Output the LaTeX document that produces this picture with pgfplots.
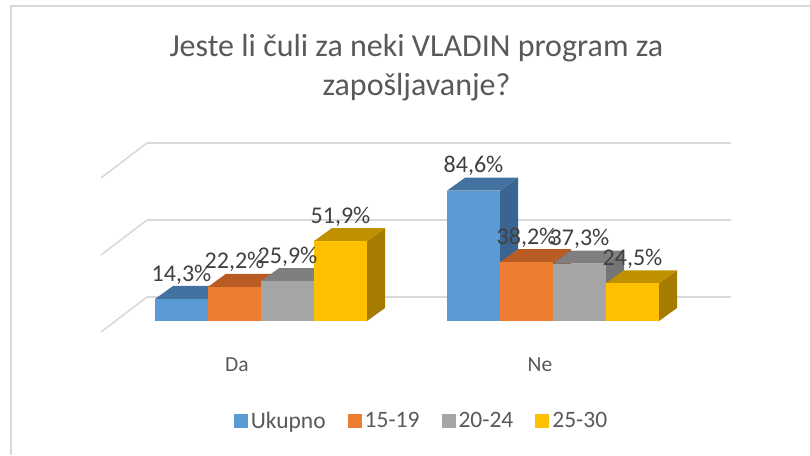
\documentclass[border=0pt]{standalone}
\usepackage{fontspec}
\setmainfont{Carlito}
\usepackage{pgfplots}
\pgfplotsset{compat=1.18}
\definecolor{cblueF}{HTML}{5B9BD5}\definecolor{cblueT}{HTML}{4472A0}\definecolor{cblueS}{HTML}{3A6593}
\definecolor{corF}{HTML}{ED7D31}\definecolor{corT}{HTML}{B85C23}\definecolor{corS}{HTML}{A05020}
\definecolor{cgrF}{HTML}{A5A5A5}\definecolor{cgrT}{HTML}{7F7F7F}\definecolor{cgrS}{HTML}{757575}
\definecolor{cyeF}{HTML}{FFC000}\definecolor{cyeT}{HTML}{C09000}\definecolor{cyeS}{HTML}{A67C00}
\definecolor{gridc}{HTML}{D9D9D9}
\definecolor{txtA}{HTML}{595959}
\definecolor{txtB}{HTML}{404040}
% 3D-looking bar: #1 left x of front face, #2 value (%), #3 front, #4 top, #5 side colour
\newcommand{\cubebar}[5]{%
  \pgfmathsetmacro\xa{#1}%
  \pgfmathsetmacro\xb{#1+53}%
  \pgfmathsetmacro\xc{#1+53+18}%
  \pgfmathsetmacro\xd{#1+18}%
  \pgfmathsetmacro\vt{#2+8.44}%
  \addplot[fill=#5,draw=none,forget plot] coordinates {(\xb,0) (\xc,8.44) (\xc,\vt) (\xb,#2)};
  \addplot[fill=#4,draw=none,forget plot] coordinates {(\xa,#2) (\xb,#2) (\xc,\vt) (\xd,\vt)};
  \addplot[fill=#3,draw=none,forget plot] coordinates {(\xa,0) (\xb,0) (\xb,#2) (\xa,#2)};
}
\begin{document}
\begin{tikzpicture}
\begin{axis}[
  width=810pt, height=455pt, scale only axis,
  xmin=0, xmax=810, ymin=-87.013, ymax=208.442,
  hide axis, clip=false,
  legend columns=4,
  legend style={at={(0.521,0.0754)}, anchor=center, draw=none, fill=none,
    font=\fontsize{23.5}{27}\selectfont, text=txtA,
    nodes={inner sep=3pt},
    /tikz/every even column/.append style={column sep=19pt}},
  legend image code/.code={\fill[#1] (0pt,-7pt) rectangle (14pt,7pt);},
]
\addlegendimage{fill=cblueF,draw=none}\addlegendentry{Ukupno}
\addlegendimage{fill=corF,draw=none}\addlegendentry{15-19}
\addlegendimage{fill=cgrF,draw=none}\addlegendentry{20-24}
\addlegendimage{fill=cyeF,draw=none}\addlegendentry{25-30}
% back wall and side wall gridlines (0, 50, 100 %)
\addplot[gridc, line width=1.6pt, forget plot] coordinates {(101,-7.14) (147,15.58) (731,15.58)};
\addplot[gridc, line width=1.6pt, forget plot] coordinates {(101,42.86) (147,65.58) (731,65.58)};
\addplot[gridc, line width=1.6pt, forget plot] coordinates {(101,92.86) (147,115.58) (731,115.58)};
% Da
\cubebar{155}{14.3}{cblueF}{cblueT}{cblueS}
\cubebar{208}{22.2}{corF}{corT}{corS}
\cubebar{261}{25.9}{cgrF}{cgrT}{cgrS}
\cubebar{314}{51.9}{cyeF}{cyeT}{cyeS}
% Ne
\cubebar{447}{84.6}{cblueF}{cblueT}{cblueS}
\cubebar{500}{38.2}{corF}{corT}{corS}
\cubebar{553}{37.3}{cgrF}{cgrT}{cgrS}
\cubebar{606}{24.5}{cyeF}{cyeT}{cyeS}
% data labels
\addplot[draw=none, forget plot, nodes near coords, point meta=explicit symbolic,
  every node near coord/.append style={anchor=center, yshift=24.5pt,
    font=\fontsize{24}{28}\selectfont, text=txtB}]
  coordinates {(181.5,14.3)[14,3\%] (234.5,22.2)[22,2\%] (287.5,25.9)[25,9\%] (340.5,51.9)[51,9\%]
               (473.5,84.6)[84,6\%] (526.5,38.2)[38,2\%] (579.5,37.3)[37,3\%] (632.5,24.5)[24,5\%]};
\end{axis}
% frame
\draw[gridc, line width=1.5pt] (11pt,0pt) -- (11pt,449pt) -- (812pt,449pt);
% title
\node[anchor=base, font=\fontsize{32}{36}\selectfont, text=txtA, inner sep=0] at (416.4pt,398.3pt) {Jeste li čuli za neki VLADIN program za};
\node[anchor=base, font=\fontsize{32}{36}\selectfont, text=txtA, inner sep=0] at (416.5pt,359.5pt) {zapošljavanje?};
% category labels
\node[anchor=center, font=\fontsize{21.5}{25}\selectfont, text=txtA] at (237pt,90pt) {Da};
\node[anchor=center, font=\fontsize{21.5}{25}\selectfont, text=txtA] at (540pt,90pt) {Ne};
\pgfresetboundingbox
\path[use as bounding box] (0,0) rectangle (810pt,455pt);
\end{tikzpicture}
\end{document}
